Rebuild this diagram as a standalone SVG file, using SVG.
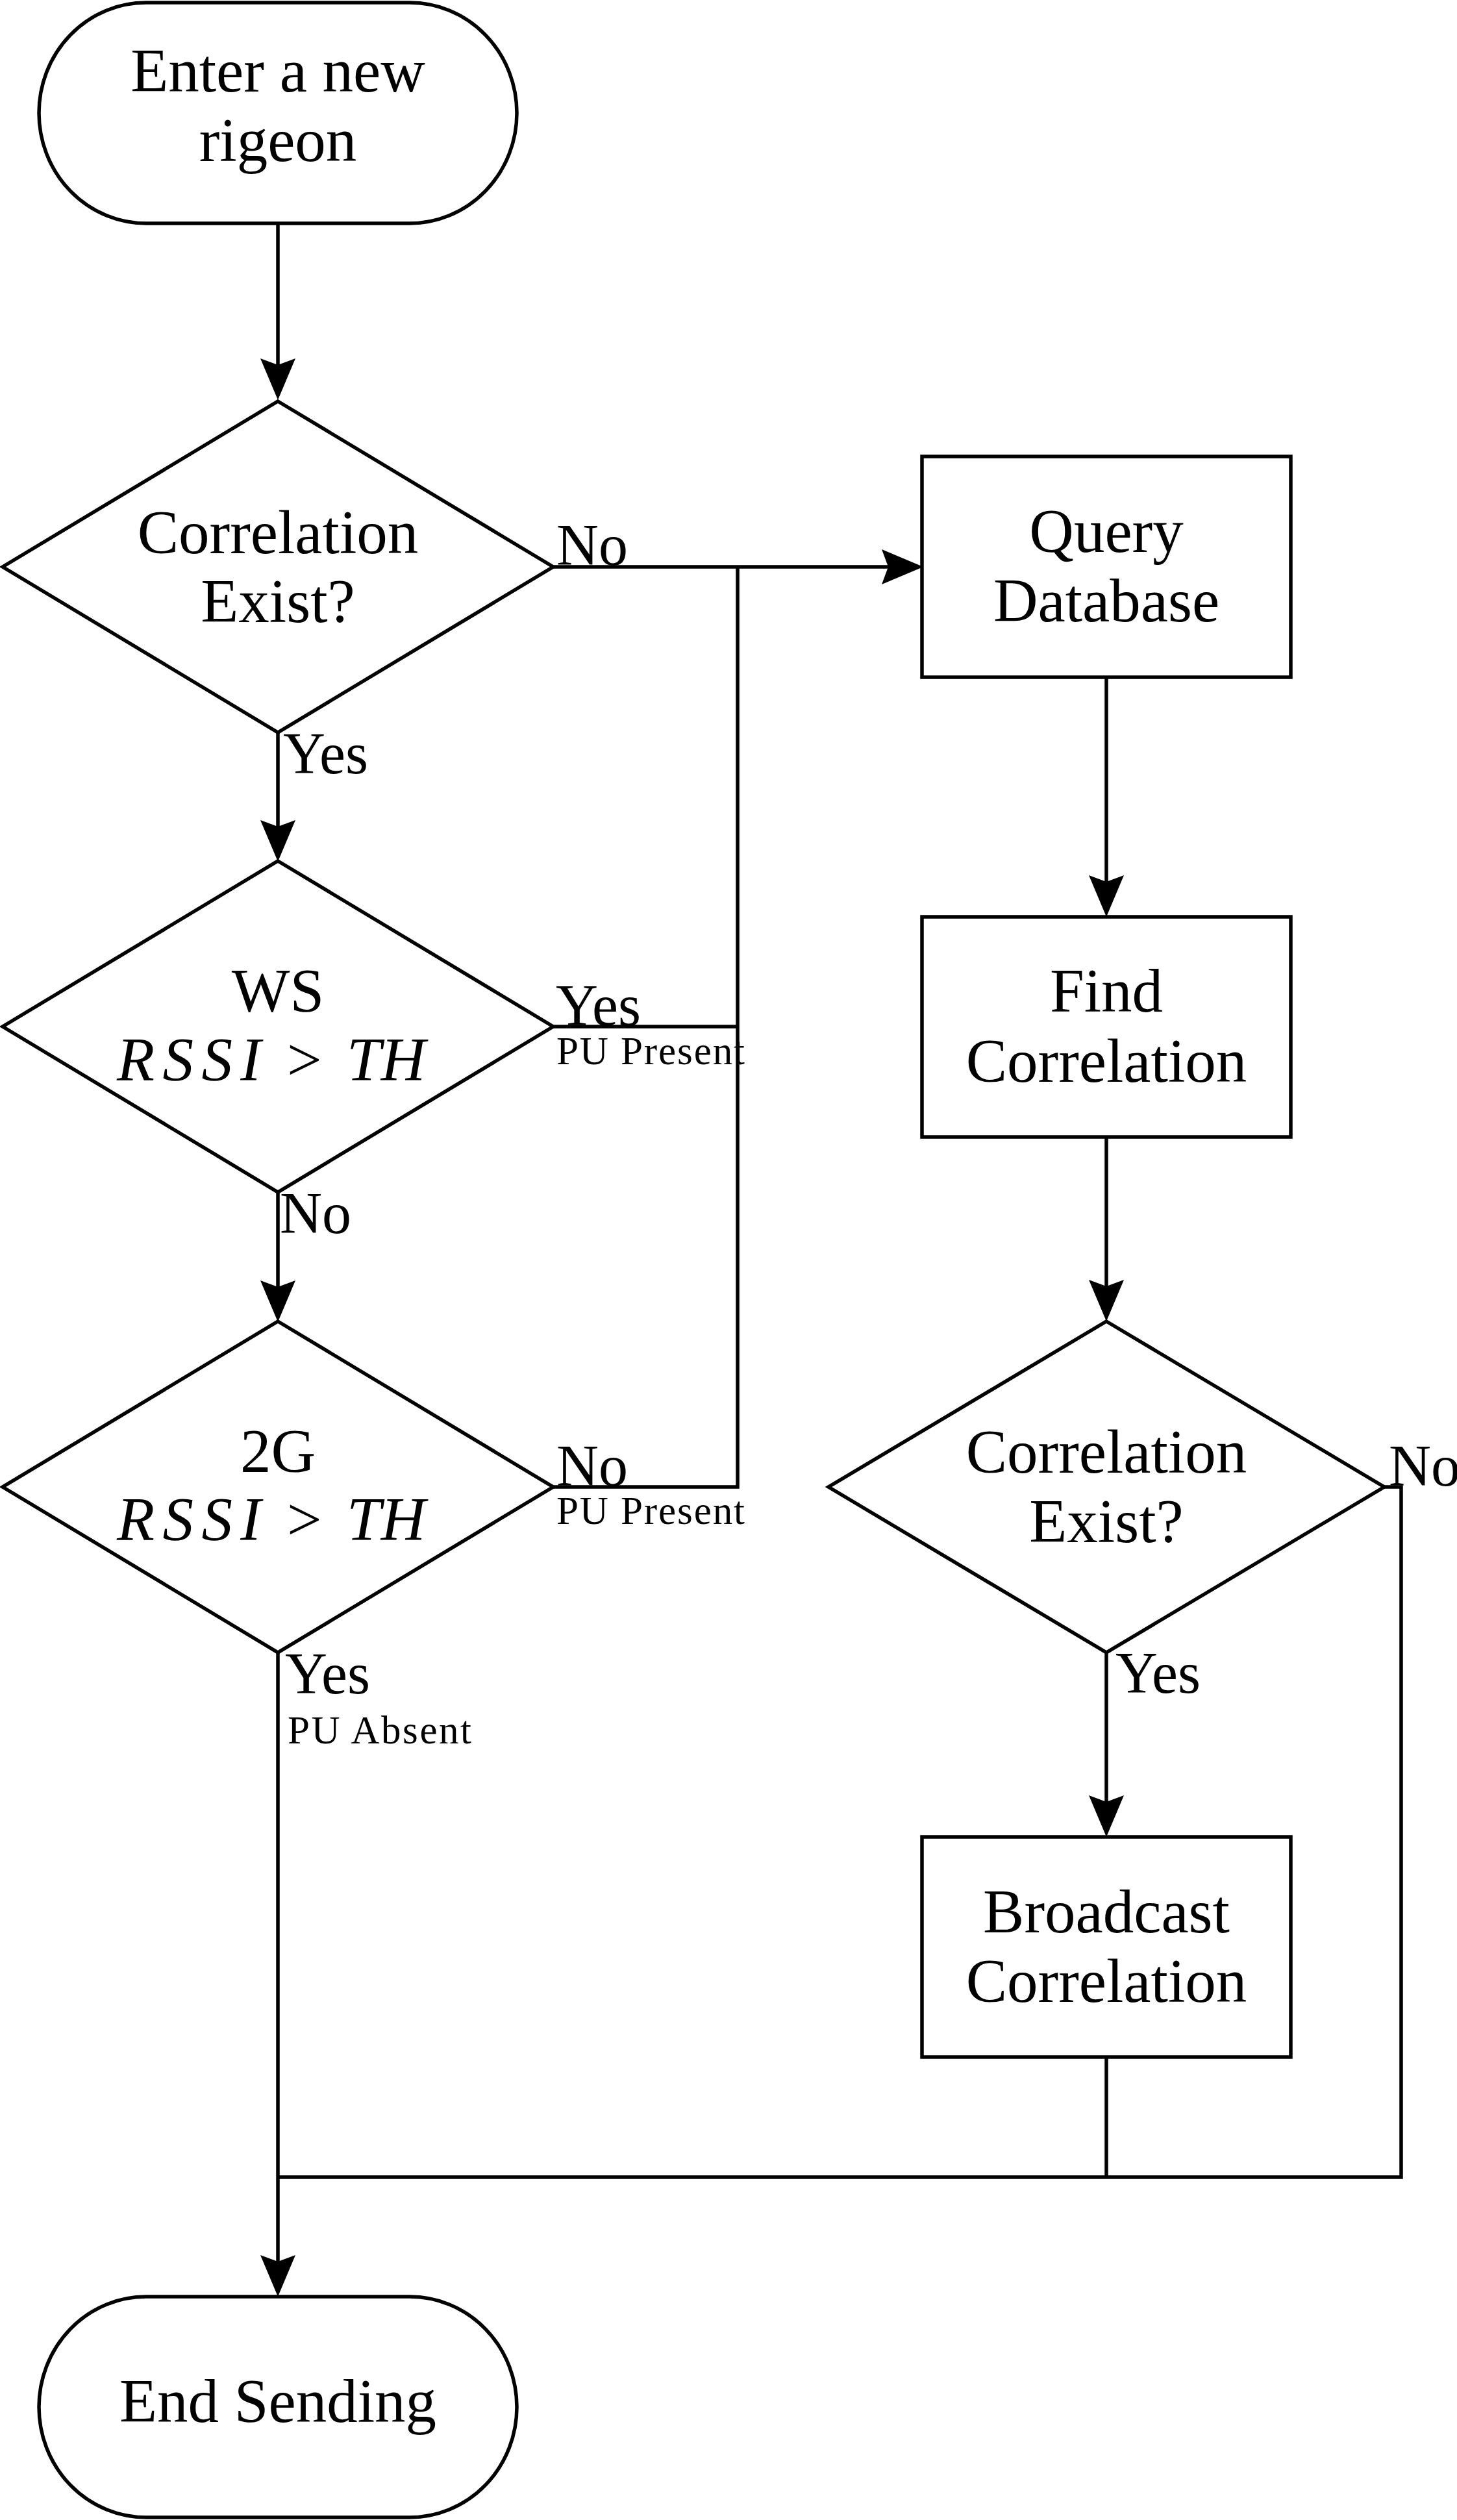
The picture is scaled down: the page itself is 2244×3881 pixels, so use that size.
<svg xmlns="http://www.w3.org/2000/svg" width="2244" height="3881" viewBox="0 0 2244 3881">
<style>
.shape{fill:#fff;stroke:#000;stroke-width:5.5;stroke-linejoin:miter}
.line{fill:none;stroke:#000;stroke-width:5.5}
.t{font-family:"Liberation Serif","DejaVu Serif",serif;font-size:95px;fill:#000;text-anchor:middle}
.m{font-family:"Liberation Serif","DejaVu Serif",serif;font-size:95px;fill:#000}
.lb{font-family:"Liberation Serif","DejaVu Serif",serif;font-size:90px;fill:#000}
.sm{font-family:"Liberation Serif","DejaVu Serif",serif;font-size:61px;fill:#000}
.it{font-style:italic}
</style>
<defs>
<marker id="arr" markerUnits="userSpaceOnUse" viewBox="0 0 64 54" refX="10" refY="27" markerWidth="64" markerHeight="54" orient="auto">
<path d="M0,0 L64,27 L0,54 L10,27 Z" fill="#000"/>
</marker>
</defs>
<rect width="2244" height="3881" fill="#fff"/>
<g id="connectors">
<line class="line" x1="428" y1="344" x2="428" y2="562" marker-end="url(#arr)"/>
<line class="line" x1="428" y1="1128" x2="428" y2="1273" marker-end="url(#arr)"/>
<line class="line" x1="428" y1="1836" x2="428" y2="1982" marker-end="url(#arr)"/>
<line class="line" x1="428" y1="2545" x2="428" y2="3483" marker-end="url(#arr)"/>
<line class="line" x1="853" y1="873" x2="1368" y2="873" marker-end="url(#arr)"/>
<line class="line" x1="1704" y1="1043" x2="1704" y2="1358" marker-end="url(#arr)"/>
<line class="line" x1="1704" y1="1751" x2="1704" y2="1981" marker-end="url(#arr)"/>
<line class="line" x1="1704" y1="2545" x2="1704" y2="2775" marker-end="url(#arr)"/>
<path class="line" d="M853,1581 H1136"/>
<path class="line" d="M853,2290 H1136 V873"/>
<path class="line" d="M2132,2290 H2158 V3353 H428"/>
<path class="line" d="M1704,3168 V3353"/>
</g>
<g id="start">
<rect class="shape" x="60" y="4" width="736" height="340" rx="165" ry="170"/>
<text class="t" x="428" y="141">Enter a new</text>
<text class="t" x="428" y="248">rigeon</text>
</g>
<g id="corr1">
<polygon class="shape" points="428,618 852,873 428,1128 4,873"/>
<text class="t" x="428" y="852">Correlation</text>
<text class="t" x="428" y="958">Exist?</text>
</g>
<g id="ws">
<polygon class="shape" points="428,1326 852,1581 428,1836 4,1581"/>
<text class="t" x="428" y="1558">WS</text>
<text class="m" y="1664"><tspan class="it" x="180" textLength="222" lengthAdjust="spacing">RSSI</tspan><tspan x="442">&gt;</tspan><tspan class="it" x="534">TH</tspan></text>
</g>
<g id="g2">
<polygon class="shape" points="428,2035 852,2290 428,2545 4,2290"/>
<text class="t" x="428" y="2267">2G</text>
<text class="m" y="2372"><tspan class="it" x="180" textLength="222" lengthAdjust="spacing">RSSI</tspan><tspan x="442">&gt;</tspan><tspan class="it" x="534">TH</tspan></text>
</g>
<g id="query">
<rect class="shape" x="1420" y="703" width="568" height="340"/>
<text class="t" x="1704" y="850">Query</text>
<text class="t" x="1704" y="957">Database</text>
</g>
<g id="find">
<rect class="shape" x="1420" y="1412" width="568" height="339"/>
<text class="t" x="1704" y="1558">Find</text>
<text class="t" x="1704" y="1666">Correlation</text>
</g>
<g id="corr2">
<polygon class="shape" points="1704,2035 2132,2290 1704,2545 1276,2290"/>
<text class="t" x="1704" y="2268">Correlation</text>
<text class="t" x="1704" y="2375">Exist?</text>
</g>
<g id="broadcast">
<rect class="shape" x="1420" y="2829" width="568" height="339"/>
<text class="t" x="1704" y="2976">Broadcast</text>
<text class="t" x="1704" y="3083">Correlation</text>
</g>
<g id="end">
<rect class="shape" x="60" y="3537" width="736" height="340" rx="165" ry="170"/>
<text class="t" x="428" y="3730">End Sending</text>
</g>
<g id="labels">
<text class="lb" x="857" y="870">No</text>
<text class="lb" x="436" y="1191">Yes</text>
<text class="lb" x="856" y="1579">Yes</text>
<text class="sm" x="857" y="1639" textLength="290" lengthAdjust="spacing">PU Present</text>
<text class="lb" x="431" y="1899">No</text>
<text class="lb" x="857" y="2288">No</text>
<text class="sm" x="857" y="2347" textLength="290" lengthAdjust="spacing">PU Present</text>
<text class="lb" x="439" y="2608">Yes</text>
<text class="sm" x="443" y="2685" textLength="283" lengthAdjust="spacing">PU Absent</text>
<text class="lb" x="2139" y="2288">No</text>
<text class="lb" x="1718" y="2607">Yes</text>
</g>
</svg>
